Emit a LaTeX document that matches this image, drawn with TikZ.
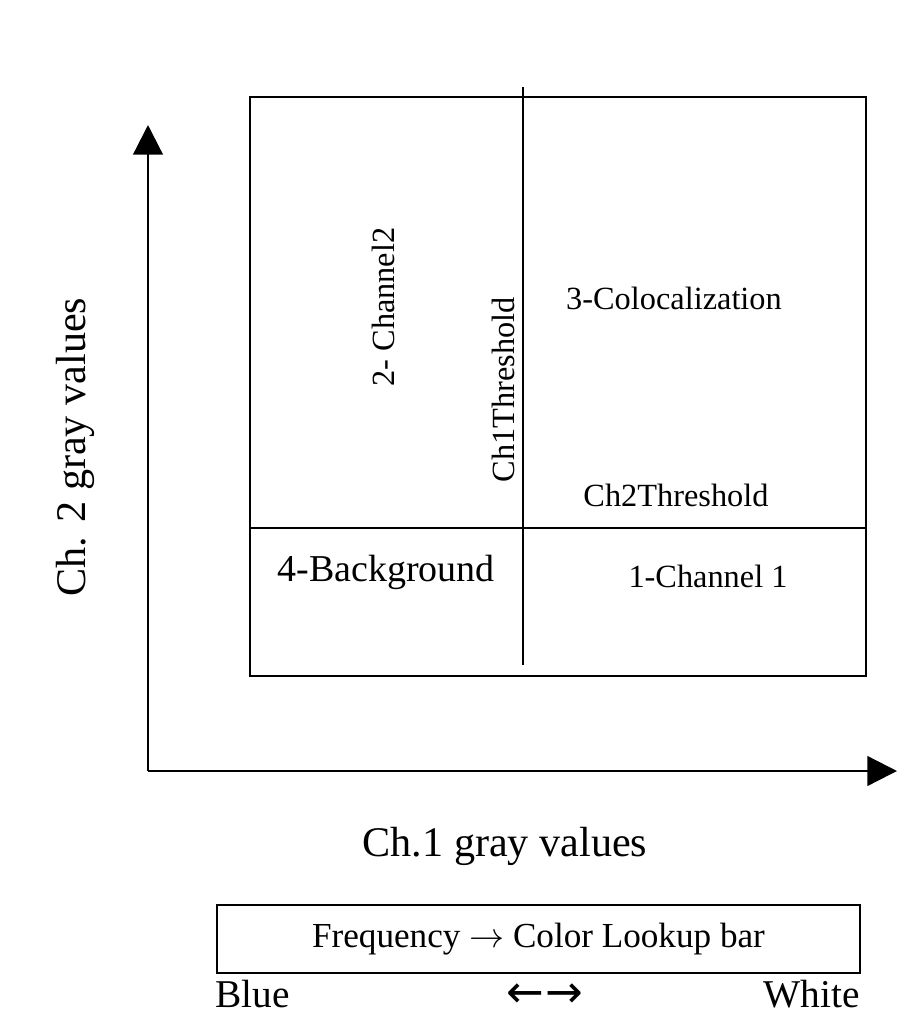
\documentclass[tikz,border=0pt]{standalone}
\usepackage{fontspec}
\setmainfont{Liberation Serif}
\newfontfamily\arrowfont{DejaVu Sans}
\usetikzlibrary{arrows.meta}

\begin{document}
\begin{tikzpicture}[x=0.025cm,y=-0.025cm,
  axis/.style={-{Triangle[length=21pt,width=21pt]},line width=1.6pt},
  frame/.style={draw,line width=1.7pt},
  lbl/.style={font=\fontsize{23}{26}\selectfont,inner sep=0pt},
  big/.style={font=\fontsize{30}{34}\selectfont,inner sep=0pt}]
\useasboundingbox (0,0) rectangle (901,1017);
% axes
\coordinate (o) at (148,771);
\coordinate (ytip) at (148,125);
\coordinate (xtip) at (897,771);
\draw[axis] (o) -- (ytip);
\draw[axis] (o) -- (xtip);
% scatter region and thresholds
\coordinate (nw) at (250,97);
\coordinate (se) at (866,676);
\draw[frame] (nw) rectangle (se);
\coordinate (t1top) at (523,87);
\coordinate (t1bot) at (523,665);
\coordinate (t2w) at (250,528);
\coordinate (t2e) at (866,528);
\draw[frame] (t1top) -- (t1bot);
\draw[frame] (t2w) -- (t2e);
\node[lbl,rotate=90] (ch2) at (383,307) {2- Channel2};
\node[lbl,rotate=90] (th1) at (503,390) {Ch1Threshold};
\node[lbl] (coloc) at (674,298) {3-Colocalization};
\node[lbl] (th2) at (676,495) {Ch2Threshold};
\node[lbl,font=\fontsize{27}{30}\selectfont] (bg) at (386,572) {4-Background};
\node[lbl] (ch1) at (708,576) {1-Channel 1};
% axis titles
\node[big,rotate=90] (ylab) at (75,447) {Ch. 2 gray values};
\node[big] (xlab) at (505,846) {Ch.1 gray values};
% lookup bar
\node[frame,minimum width=16.075cm,minimum height=1.7cm,
      font=\fontsize{25}{28}\selectfont] (bar) at (538.5,939) {Frequency $\rightarrow$ Color Lookup bar};
\node[big,anchor=west,font=\fontsize{28}{32}\selectfont] (blue) at (215,994) {Blue};
\node[big,anchor=east,font=\fontsize{28}{32}\selectfont] (white) at (860,994) {White};
\node[big,font=\arrowfont\fontsize{32}{36}\selectfont] (dirs) at (545,996) {←\kern1pt→};
\end{tikzpicture}
\end{document}
